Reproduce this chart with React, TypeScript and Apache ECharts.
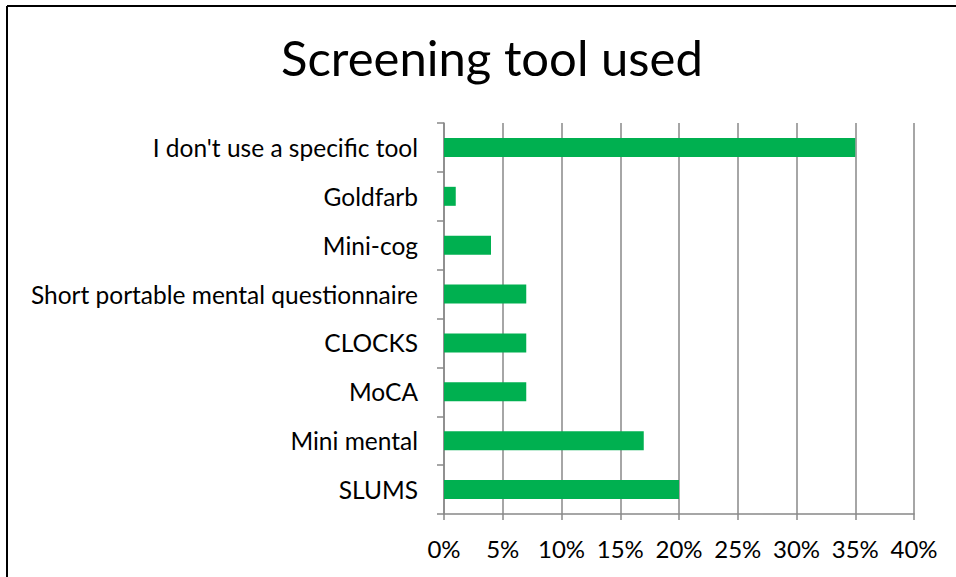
import React, { useEffect, useRef } from "react";
import * as echarts from "echarts";

const titleText = "Screening tool used";
const categories = [
  "I don't use a specific tool",
  "Goldfarb",
  "Mini-cog",
  "Short portable mental questionnaire",
  "CLOCKS",
  "MoCA",
  "Mini mental",
  "SLUMS",
];
const values = [35, 1, 4, 7, 7, 7, 17, 20];
const xMin = 0;
const xMax = 40;
const xStep = 5;

const FONT = "Lato, 'Noto Sans', sans-serif";

export default function App() {
  const ref = useRef<HTMLDivElement>(null);
  useEffect(() => {
    if (!ref.current) return;
    const chart = echarts.init(ref.current, undefined, { renderer: "svg" });
    chart.setOption({
      animation: false,
      backgroundColor: "#ffffff",
      title: {
        text: titleText,
        left: 276,
        top: 27,
        textStyle: { fontFamily: FONT, fontSize: 49, fontWeight: "normal", color: "#000" },
      },
      graphic: [
        { type: "line", shape: { x1: 7, y1: 6, x2: 956, y2: 6 }, style: { stroke: "#000", lineWidth: 2 } },
        { type: "line", shape: { x1: 7, y1: 6, x2: 7, y2: 577 }, style: { stroke: "#000", lineWidth: 2 } },
      ],
      grid: { left: 444, right: 42, top: 123, bottom: 63, containLabel: false },
      xAxis: {
        type: "value",
        min: xMin,
        max: xMax,
        interval: xStep,
        axisLine: { show: true, lineStyle: { color: "#888", width: 1.5 } },
        axisTick: { show: true, length: 6, lineStyle: { color: "#888", width: 1.5 } },
        splitLine: { show: true, lineStyle: { color: "#888", width: 1.5 } },
        axisLabel: {
          formatter: "{value}%",
          fontFamily: FONT,
          fontSize: 24,
          color: "#000",
          margin: 22,
        },
      },
      yAxis: {
        type: "category",
        data: categories,
        inverse: true,
        axisLine: { show: true, lineStyle: { color: "#888", width: 1.5 } },
        axisTick: { show: true, length: 7, lineStyle: { color: "#888", width: 1.5 } },
        axisLabel: { fontFamily: FONT, fontSize: 24.5, color: "#000", margin: 26 },
      },
      series: [
        {
          type: "bar",
          data: values,
          barWidth: 19,
          itemStyle: { color: "#00B050" },
        },
      ],
    });
    return () => chart.dispose();
  }, []);
  return (
    <div
      ref={ref}
      style={{ position: "fixed", left: 0, top: 0, width: 956, height: 577 }}
    />
  );
}
